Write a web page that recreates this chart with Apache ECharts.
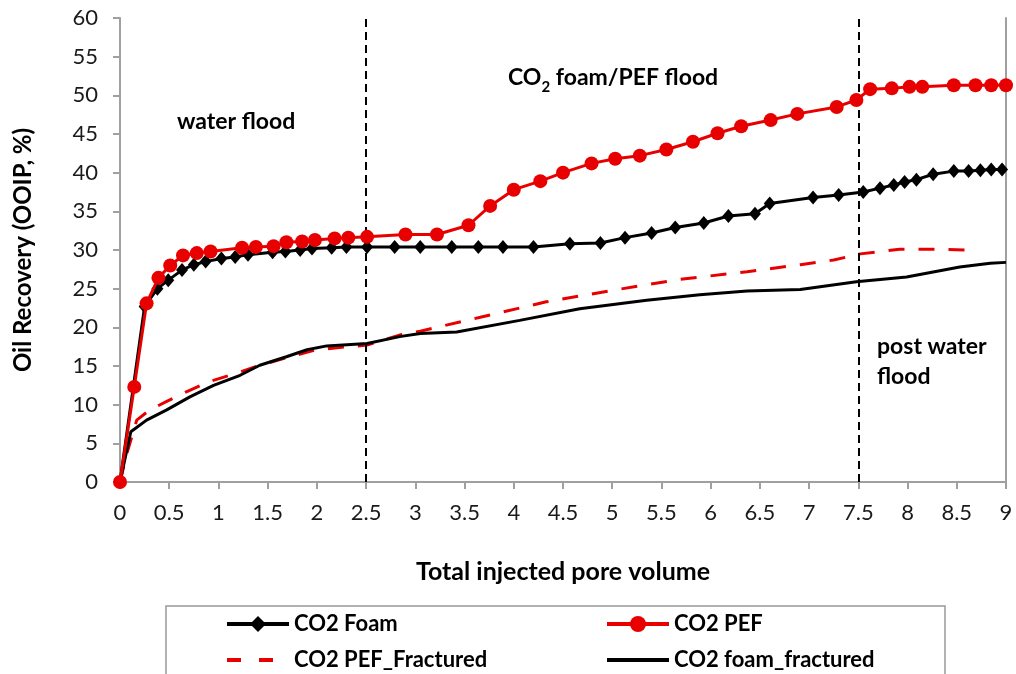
<!DOCTYPE html>
<html>
<head>
<meta charset="utf-8">
<script src="https://cdn.jsdelivr.net/npm/echarts@6/dist/echarts.min.js"></script>
<style>html,body{margin:0;padding:0;background:#fff}#c{width:1016px;height:674px}</style>
</head>
<body>
<div id="c"></div>
<script>
// ---- data ----
const xTicks = {min: 0, max: 9, interval: 0.5};
const yTicks = {min: 0, max: 60, interval: 5};

const foamX = [0,0.25,0.38,0.49,0.63,0.75,0.87,1.03,1.17,1.30,1.55,1.68,1.83,1.95,2.15,2.30,2.51,2.79,3.05,3.37,3.64,3.89,4.20,4.57,4.88,5.13,5.40,5.64,5.93,6.18,6.45,6.60,7.04,7.30,7.55,7.72,7.86,7.97,8.09,8.26,8.47,8.62,8.74,8.85,8.96];
const foamY = [0,22.7,25.0,26.1,27.4,28.1,28.5,28.9,29.1,29.4,29.7,29.8,30.0,30.2,30.3,30.4,30.4,30.4,30.4,30.4,30.4,30.4,30.4,30.8,30.9,31.6,32.2,32.9,33.5,34.4,34.7,36.0,36.8,37.1,37.5,38.0,38.4,38.8,39.1,39.8,40.2,40.2,40.3,40.4,40.4];

const pefX = [0,0.145,0.27,0.39,0.51,0.64,0.78,0.92,1.24,1.38,1.56,1.69,1.85,1.98,2.18,2.32,2.51,2.90,3.22,3.54,3.76,4.00,4.27,4.50,4.79,5.03,5.28,5.55,5.82,6.07,6.31,6.61,6.88,7.28,7.48,7.62,7.84,8.02,8.15,8.47,8.69,8.85,9.0];
const pefY = [0,12.3,23.1,26.4,28.0,29.3,29.6,29.8,30.3,30.4,30.5,31.0,31.1,31.3,31.5,31.6,31.7,32.0,32.0,33.2,35.7,37.8,38.9,40.0,41.2,41.8,42.2,43.0,44.0,45.1,46.0,46.8,47.6,48.5,49.4,50.8,50.9,51.1,51.1,51.3,51.3,51.3,51.3];

const pefFracX = [0,0.07,0.17,0.30,0.47,0.68,0.91,1.19,1.42,1.73,1.96,2.23,2.51,2.84,3.05,3.66,4.33,5.01,5.69,6.37,6.91,7.25,7.52,7.92,8.2,8.63];
const pefFracY = [0,3.7,8.0,9.3,10.4,11.7,13.0,14.1,15.1,16.2,17.0,17.4,17.7,19.0,19.5,21.3,23.3,24.8,26.2,27.2,28.1,28.7,29.5,30.1,30.1,30.0];

const foamFracX = [0,0.11,0.27,0.47,0.71,0.95,1.22,1.42,1.69,1.90,2.10,2.51,2.84,3.05,3.42,4.06,4.67,5.35,5.89,6.37,6.91,7.48,7.99,8.53,8.84,9.0];
const foamFracY = [0,6.5,8.0,9.3,11.0,12.5,13.8,15.1,16.2,17.1,17.6,17.9,18.8,19.2,19.4,20.9,22.4,23.5,24.2,24.7,24.9,25.9,26.5,27.8,28.3,28.4];

const phaseBounds = [2.5, 7.5];
const seriesNames = ['CO2 Foam', 'CO2 PEF', 'CO2 PEF_Fractured', 'CO2 foam_fractured'];
const xTitle = 'Total injected pore volume';
const yTitle = 'Oil Recovery (OOIP, %)';

// ---- chart ----
const zip = (xs, ys) => xs.map((x, i) => [x, ys[i]]);
const FONT = 'Lato, "Open Sans", sans-serif';
const RED = '#e80000';
const AX = '#a0a0a0';

const legendText = {fontFamily: FONT, fontWeight: 'bold', fontSize: 22, color: '#000'};
function oneLegend(name, left, top, hideSymbol, dash) {
  const l = {data: [name], orient: 'horizontal', left: left, top: top,
    itemWidth: 62, itemHeight: 20, itemGap: 0, padding: 0, textStyle: legendText, selectedMode: false,
    lineStyle: dash ? {width: 4, type: dash} : {width: 4}};
  if (hideSymbol) l.itemStyle = {opacity: 0};
  return l;
}

const chart = echarts.init(document.getElementById('c'), null, {renderer: 'canvas'});
chart.setOption({
  animation: false,
  backgroundColor: '#fff',
  grid: {left: 120, right: 10, top: 18, bottom: 192, containLabel: false},
  xAxis: {
    type: 'value', min: xTicks.min, max: xTicks.max, interval: xTicks.interval,
    name: xTitle, nameLocation: 'middle', nameGap: 77,
    nameTextStyle: {fontFamily: FONT, fontWeight: 'bold', fontSize: 25, color: '#000'},
    axisLine: {show: true, lineStyle: {color: AX, width: 2}},
    axisTick: {show: true, length: 7, lineStyle: {color: AX, width: 2}},
    axisLabel: {fontFamily: FONT, fontSize: 22, color: '#1a1a1a', margin: 20},
    splitLine: {show: false}
  },
  yAxis: [{
    type: 'value', min: yTicks.min, max: yTicks.max, interval: yTicks.interval,
    name: yTitle, nameLocation: 'middle', nameGap: 85,
    nameTextStyle: {fontFamily: FONT, fontWeight: 'bold', fontSize: 24, color: '#000'},
    axisLine: {show: true, lineStyle: {color: AX, width: 2}},
    axisTick: {show: true, length: 7, lineStyle: {color: AX, width: 2}},
    axisLabel: {fontFamily: FONT, fontSize: 22, color: '#1a1a1a', margin: 22},
    splitLine: {show: false}
  }, {
    type: 'value', min: yTicks.min, max: yTicks.max, interval: yTicks.interval, position: 'right',
    axisLine: {show: true, lineStyle: {color: AX, width: 2}},
    axisTick: {show: false}, axisLabel: {show: false}, splitLine: {show: false}
  }],
  legend: [
    oneLegend(seriesNames[0], 225, 613, false),
    oneLegend(seriesNames[2], 225, 649, true, [14, 18]),
    oneLegend(seriesNames[1], 605, 613, false),
    oneLegend(seriesNames[3], 605, 649, true)
  ],
  graphic: [
    {type: 'rect', shape: {x: 166, y: 606, width: 779, height: 90},
     style: {fill: 'none', stroke: '#999', lineWidth: 1.5}, silent: true},
    {type: 'text', x: 177, y: 122,
     style: {text: 'water flood', font: 'bold 23px ' + FONT, fill: '#000', textVerticalAlign: 'middle'}},
    {type: 'text', x: 508, y: 64,
     style: {text: '{a|CO}{s|2}{a| foam/PEF flood}', fill: '#000',
       rich: {a: {fontFamily: FONT, fontWeight: 'bold', fontSize: 23, lineHeight: 28, verticalAlign: 'bottom', padding: [0,0,3,0]},
              s: {fontFamily: FONT, fontWeight: 'bold', fontSize: 15, lineHeight: 28, verticalAlign: 'bottom', padding: [0,0,-3,0]}}}},
    {type: 'text', x: 877, y: 362,
     style: {text: 'post water\nflood', font: 'bold 23px ' + FONT, fill: '#000', textVerticalAlign: 'middle', lineHeight: 30}}
  ],
  series: [
    {
      name: seriesNames[2], type: 'line', z: 2, data: zip(pefFracX, pefFracY),
      showSymbol: false, symbol: 'circle',
      lineStyle: {color: RED, width: 3, type: [16, 14]}, itemStyle: {color: RED}
    },
    {
      name: seriesNames[3], type: 'line', z: 3, data: zip(foamFracX, foamFracY),
      showSymbol: false, symbol: 'circle',
      lineStyle: {color: '#000', width: 3}, itemStyle: {color: '#000'},
      markLine: {
        silent: true, symbol: ['none', 'none'], label: {show: false},
        lineStyle: {color: '#000', type: [8, 5], width: 2},
        data: phaseBounds.map(v => ({xAxis: v}))
      }
    },
    {
      name: seriesNames[0], type: 'line', z: 4, data: zip(foamX, foamY),
      symbol: 'diamond', symbolSize: [12, 14], showAllSymbol: true,
      lineStyle: {color: '#000', width: 3}, itemStyle: {color: '#000'}
    },
    {
      name: seriesNames[1], type: 'line', z: 5, data: zip(pefX, pefY),
      symbol: 'circle', symbolSize: 14, showAllSymbol: true,
      lineStyle: {color: RED, width: 3}, itemStyle: {color: RED}
    }
  ]
});
</script>
</body>
</html>
